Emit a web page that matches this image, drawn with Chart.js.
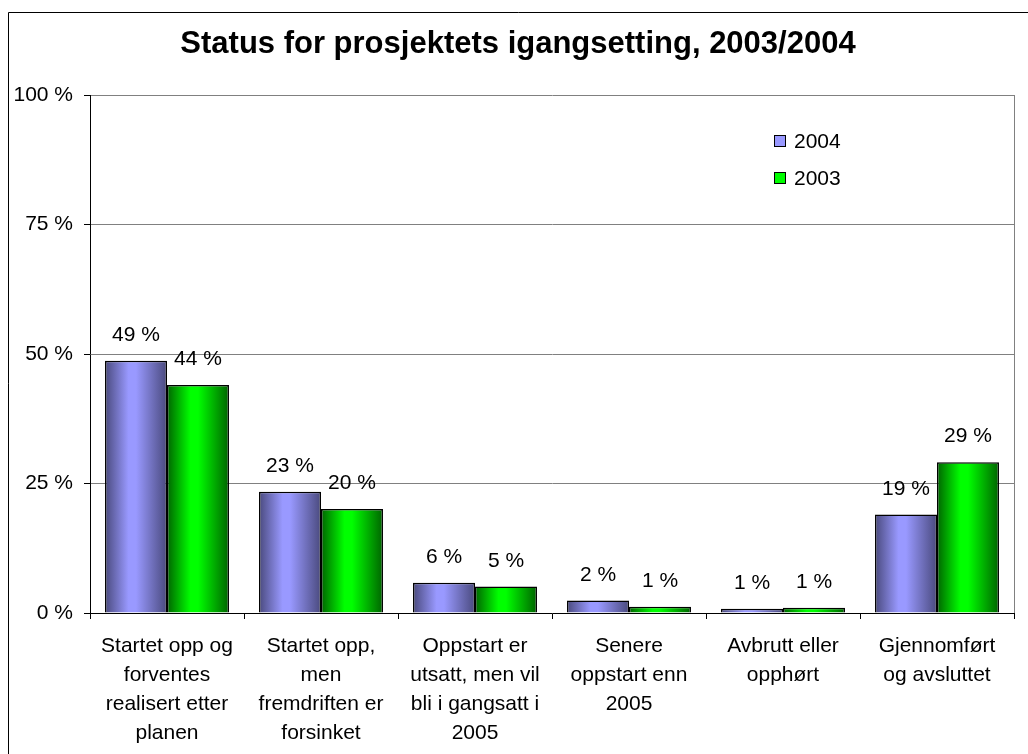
<!DOCTYPE html>
<html>
<head>
<meta charset="utf-8">
<script src="https://cdn.jsdelivr.net/npm/chart.js@4.4.1/dist/chart.umd.min.js"></script>
<style>
  html, body { margin: 0; padding: 0; background: #fff; }
  #wrap { position: relative; width: 1028px; height: 754px; overflow: hidden; }
  canvas { display: block; }
</style>
</head>
<body>
<div id="wrap"><canvas id="c" width="1028" height="754"></canvas></div>
<script>
const chartTitle = "Status for prosjektets igangsetting, 2003/2004";
const categories = [
  ["Startet opp og", "forventes", "realisert etter", "planen"],
  ["Startet opp,", "men", "fremdriften er", "forsinket"],
  ["Oppstart er", "utsatt, men vil", "bli i gangsatt i", "2005"],
  ["Senere", "oppstart enn", "2005"],
  ["Avbrutt eller", "opphørt"],
  ["Gjennomført", "og avsluttet"]
];
const seriesNames = ["2004", "2003"];
const values2004 = [48.7, 23.4, 5.85, 2.4, 0.8, 19.0];
const values2003 = [44.0, 20.1, 5.1, 1.2, 1.0, 29.1];
const yTicks = [0, 25, 50, 75, 100];

const FONT = "'Liberation Sans', Arial, sans-serif";
const palette = [
  { light: "#9999ff", dark: "#4a4a7e", swatch: "#9999ff" },
  { light: "#00ff00", dark: "#006400", swatch: "#00ff00" }
];

const gradientPlugin = {
  id: "barGradient",
  beforeDatasetsDraw(chart) {
    const ctx = chart.ctx;
    chart.data.datasets.forEach((ds, di) => {
      const meta = chart.getDatasetMeta(di);
      const p = palette[di];
      meta.data.forEach(el => {
        const x0 = el.x - el.width / 2, x1 = el.x + el.width / 2;
        const g = ctx.createLinearGradient(x0, 0, x1, 0);
        g.addColorStop(0, p.dark);
        g.addColorStop(0.38, p.light);
        g.addColorStop(0.5, p.light);
        g.addColorStop(1, p.dark);
        el.options = Object.assign({}, el.options, { backgroundColor: g });
      });
    });
  }
};

const decorPlugin = {
  id: "decor",
  afterDraw(chart) {
    const ctx = chart.ctx;
    const a = chart.chartArea;
    ctx.save();
    ctx.strokeStyle = "#000";
    ctx.lineWidth = 1;
    ctx.beginPath();
    ctx.moveTo(8.5, 754);
    ctx.lineTo(8.5, 12.5);
    ctx.lineTo(1028, 12.5);
    ctx.stroke();
    ctx.strokeStyle = "#808080";
    ctx.beginPath();
    ctx.moveTo(Math.round(a.right) + 0.5, a.top);
    ctx.lineTo(Math.round(a.right) + 0.5, a.bottom);
    ctx.stroke();
    ctx.fillStyle = "#000";
    ctx.font = "bold 31px " + FONT;
    ctx.textAlign = "center";
    ctx.textBaseline = "alphabetic";
    ctx.fillText(chartTitle, 518, 53);
    ctx.font = "21px " + FONT;
    chart.data.datasets.forEach((ds, di) => {
      const meta = chart.getDatasetMeta(di);
      meta.data.forEach((el, i) => {
        ctx.fillText(Math.round(ds.data[i]) + " %", el.x, el.y - 20);
      });
    });
    ctx.textAlign = "left";
    ctx.textBaseline = "middle";
    const lx = 774, ly = [141, 178];
    seriesNames.forEach((n, i) => {
      ctx.fillStyle = palette[i].swatch;
      ctx.fillRect(lx, ly[i] - 6, 12, 12);
      ctx.strokeStyle = "#000";
      ctx.lineWidth = 1;
      ctx.strokeRect(lx + 0.5, ly[i] - 5.5, 11, 11);
      ctx.fillStyle = "#000";
      ctx.fillText(n, lx + 20, ly[i] + 1);
    });
    ctx.restore();
  }
};

new Chart(document.getElementById("c"), {
  type: "bar",
  data: {
    labels: categories,
    datasets: [
      { label: seriesNames[0], data: values2004, borderColor: "#000", borderWidth: 1.5, backgroundColor: () => palette[0].light },
      { label: seriesNames[1], data: values2003, borderColor: "#000", borderWidth: 1.5, backgroundColor: () => palette[1].light }
    ]
  },
  options: {
    responsive: false,
    animation: false,
    devicePixelRatio: 1,
    layout: { padding: { top: 95, right: 14, bottom: 0, left: 0 } },
    datasets: { bar: { categoryPercentage: 0.805, barPercentage: 1.0 } },
    plugins: {
      legend: { display: false },
      title: { display: false },
      tooltip: { enabled: false }
    },
    scales: {
      x: {
        offset: true,
        afterFit: s => { s.height = 141; },
        grid: { drawOnChartArea: false, drawTicks: true, tickLength: 6, tickColor: "#000", offset: true },
        border: { color: "#000", width: 1 },
        ticks: { color: "#000", font: { family: FONT, size: 21, lineHeight: 1.38 }, padding: 13, maxRotation: 0, autoSkip: false }
      },
      y: {
        min: 0, max: 100,
        afterFit: s => { s.width = 90; },
        afterBuildTicks: s => { s.ticks = yTicks.map(v => ({ value: v })); },
        grid: { color: "#808080", tickColor: "#000", tickLength: 6, lineWidth: 1 },
        border: { color: "#000", width: 1 },
        ticks: { color: "#000", font: { family: FONT, size: 21 }, padding: 11, callback: v => v + " %" }
      }
    }
  },
  plugins: [gradientPlugin, decorPlugin]
});
</script>
</body>
</html>
